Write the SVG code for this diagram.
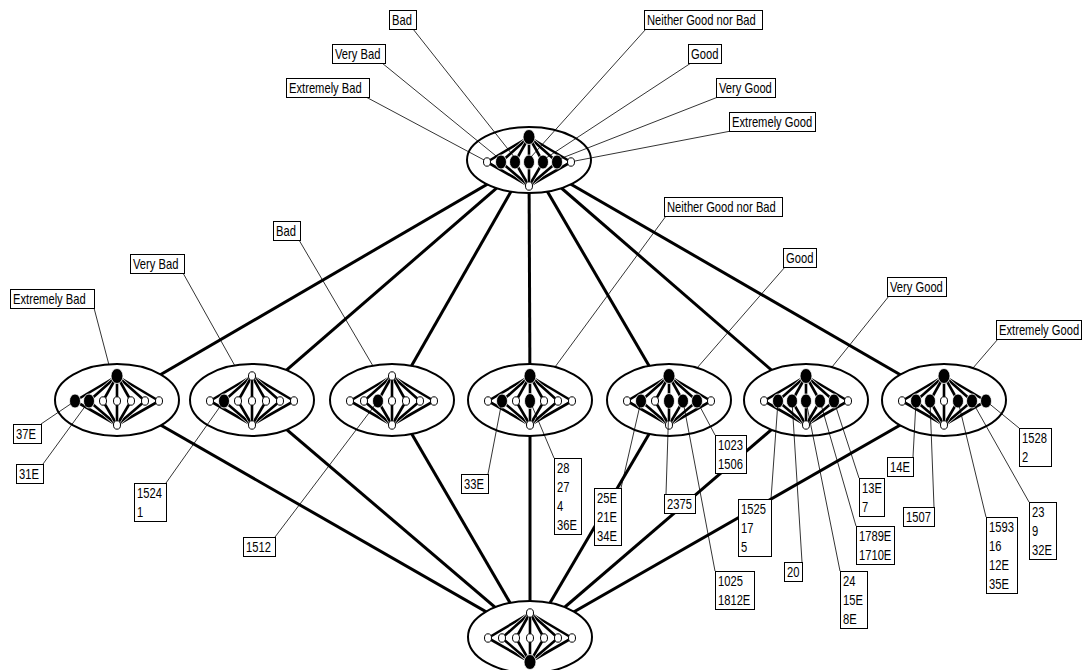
<svg xmlns="http://www.w3.org/2000/svg" xmlns:xlink="http://www.w3.org/1999/xlink" width="1082" height="670" viewBox="0 0 1082 670">
<style>
.edge{stroke:#000;stroke-width:3;fill:none}
.outer{fill:#fff;stroke:#000;stroke-width:2}
.o{fill:#fff;stroke:#000;stroke-width:1}
.f{fill:#000;stroke:#fff;stroke-width:0.8}
.ln{stroke:#000;stroke-width:0.8;fill:none}
.box{fill:#fff;stroke:#000;stroke-width:1}
text{font-family:"Liberation Sans",Arial,sans-serif;font-size:14px;fill:#000}
</style>
<defs>
<g id="ie">
<line x1="0" y1="-24" x2="-42" y2="1" stroke="#fff" stroke-width="3.8"/><line x1="0" y1="-24" x2="-42" y2="1" stroke="#000" stroke-width="2.6"/><line x1="-42" y1="1" x2="0" y2="25" stroke="#fff" stroke-width="3.8"/><line x1="-42" y1="1" x2="0" y2="25" stroke="#000" stroke-width="2.6"/>
<line x1="0" y1="-24" x2="42" y2="1" stroke="#fff" stroke-width="3.8"/><line x1="0" y1="-24" x2="42" y2="1" stroke="#000" stroke-width="2.6"/><line x1="42" y1="1" x2="0" y2="25" stroke="#fff" stroke-width="3.8"/><line x1="42" y1="1" x2="0" y2="25" stroke="#000" stroke-width="2.6"/>
<line x1="0" y1="-24" x2="-28" y2="1" stroke="#fff" stroke-width="3.8"/><line x1="0" y1="-24" x2="-28" y2="1" stroke="#000" stroke-width="2.6"/><line x1="-28" y1="1" x2="0" y2="25" stroke="#fff" stroke-width="3.8"/><line x1="-28" y1="1" x2="0" y2="25" stroke="#000" stroke-width="2.6"/>
<line x1="0" y1="-24" x2="28" y2="1" stroke="#fff" stroke-width="3.8"/><line x1="0" y1="-24" x2="28" y2="1" stroke="#000" stroke-width="2.6"/><line x1="28" y1="1" x2="0" y2="25" stroke="#fff" stroke-width="3.8"/><line x1="28" y1="1" x2="0" y2="25" stroke="#000" stroke-width="2.6"/>
<line x1="0" y1="-24" x2="-14" y2="1" stroke="#fff" stroke-width="3.8"/><line x1="0" y1="-24" x2="-14" y2="1" stroke="#000" stroke-width="2.6"/><line x1="-14" y1="1" x2="0" y2="25" stroke="#fff" stroke-width="3.8"/><line x1="-14" y1="1" x2="0" y2="25" stroke="#000" stroke-width="2.6"/>
<line x1="0" y1="-24" x2="14" y2="1" stroke="#fff" stroke-width="3.8"/><line x1="0" y1="-24" x2="14" y2="1" stroke="#000" stroke-width="2.6"/><line x1="14" y1="1" x2="0" y2="25" stroke="#fff" stroke-width="3.8"/><line x1="14" y1="1" x2="0" y2="25" stroke="#000" stroke-width="2.6"/>
<line x1="0" y1="-24" x2="0" y2="1" stroke="#fff" stroke-width="3.8"/><line x1="0" y1="-24" x2="0" y2="1" stroke="#000" stroke-width="2.6"/><line x1="0" y1="1" x2="0" y2="25" stroke="#fff" stroke-width="3.8"/><line x1="0" y1="1" x2="0" y2="25" stroke="#000" stroke-width="2.6"/>
</g>
</defs>
<rect width="1082" height="670" fill="#fff"/>

<g id="connectors">
<line class="edge" x1="529" y1="160" x2="117" y2="400"/>
<line class="edge" x1="529" y1="160" x2="252" y2="400"/>
<line class="edge" x1="529" y1="160" x2="392" y2="400"/>
<line class="edge" x1="529" y1="160" x2="530" y2="400"/>
<line class="edge" x1="529" y1="160" x2="669" y2="400"/>
<line class="edge" x1="529" y1="160" x2="806" y2="400"/>
<line class="edge" x1="529" y1="160" x2="944" y2="400"/>
<line class="edge" x1="117" y1="400" x2="530" y2="637"/>
<line class="edge" x1="252" y1="400" x2="530" y2="637"/>
<line class="edge" x1="392" y1="400" x2="530" y2="637"/>
<line class="edge" x1="530" y1="400" x2="530" y2="637"/>
<line class="edge" x1="669" y1="400" x2="530" y2="637"/>
<line class="edge" x1="806" y1="400" x2="530" y2="637"/>
<line class="edge" x1="944" y1="400" x2="530" y2="637"/>
</g>

<g id="node-top">
<ellipse class="outer" cx="529" cy="160" rx="62" ry="33"/>
<use xlink:href="#ie" href="#ie" transform="translate(529,161)"/>
<ellipse class="f" cx="529" cy="137" rx="6" ry="7.5"/>
<ellipse class="o" cx="487" cy="162" rx="3.5" ry="4.2"/>
<ellipse class="f" cx="501" cy="162" rx="5.5" ry="7"/>
<ellipse class="f" cx="515" cy="162" rx="5.5" ry="7"/>
<ellipse class="f" cx="529" cy="162" rx="5.5" ry="7"/>
<ellipse class="f" cx="543" cy="162" rx="5.5" ry="7"/>
<ellipse class="f" cx="557" cy="162" rx="5.5" ry="7"/>
<ellipse class="o" cx="571" cy="162" rx="3.5" ry="4.2"/>
<ellipse class="o" cx="529" cy="186" rx="3.5" ry="4.2"/>
</g>

<g id="node-extremely-bad">
<ellipse class="outer" cx="117" cy="400" rx="62" ry="36"/>
<use xlink:href="#ie" href="#ie" transform="translate(117,400)"/>
<ellipse class="f" cx="117" cy="376" rx="6" ry="7.5"/>
<ellipse class="f" cx="75" cy="401" rx="5.5" ry="7"/>
<ellipse class="f" cx="89" cy="401" rx="5.5" ry="7"/>
<ellipse class="o" cx="103" cy="401" rx="3.5" ry="4.2"/>
<ellipse class="o" cx="117" cy="401" rx="3.5" ry="4.2"/>
<ellipse class="o" cx="131" cy="401" rx="3.5" ry="4.2"/>
<ellipse class="o" cx="145" cy="401" rx="3.5" ry="4.2"/>
<ellipse class="o" cx="159" cy="401" rx="3.5" ry="4.2"/>
<ellipse class="o" cx="117" cy="425" rx="3.5" ry="4.2"/>
</g>

<g id="node-very-bad">
<ellipse class="outer" cx="252" cy="400" rx="62" ry="36"/>
<use xlink:href="#ie" href="#ie" transform="translate(252,400)"/>
<ellipse class="o" cx="252" cy="376" rx="3.5" ry="4.2"/>
<ellipse class="o" cx="210" cy="401" rx="3.5" ry="4.2"/>
<ellipse class="f" cx="224" cy="401" rx="5.5" ry="7"/>
<ellipse class="o" cx="238" cy="401" rx="3.5" ry="4.2"/>
<ellipse class="o" cx="252" cy="401" rx="3.5" ry="4.2"/>
<ellipse class="o" cx="266" cy="401" rx="3.5" ry="4.2"/>
<ellipse class="o" cx="280" cy="401" rx="3.5" ry="4.2"/>
<ellipse class="o" cx="294" cy="401" rx="3.5" ry="4.2"/>
<ellipse class="o" cx="252" cy="425" rx="3.5" ry="4.2"/>
</g>

<g id="node-bad">
<ellipse class="outer" cx="392" cy="400" rx="62" ry="36"/>
<use xlink:href="#ie" href="#ie" transform="translate(392,400)"/>
<ellipse class="o" cx="392" cy="376" rx="3.5" ry="4.2"/>
<ellipse class="o" cx="350" cy="401" rx="3.5" ry="4.2"/>
<ellipse class="o" cx="364" cy="401" rx="3.5" ry="4.2"/>
<ellipse class="f" cx="378" cy="401" rx="5.5" ry="7"/>
<ellipse class="o" cx="392" cy="401" rx="3.5" ry="4.2"/>
<ellipse class="o" cx="406" cy="401" rx="3.5" ry="4.2"/>
<ellipse class="o" cx="420" cy="401" rx="3.5" ry="4.2"/>
<ellipse class="o" cx="434" cy="401" rx="3.5" ry="4.2"/>
<ellipse class="o" cx="392" cy="425" rx="3.5" ry="4.2"/>
</g>

<g id="node-neither">
<ellipse class="outer" cx="530" cy="400" rx="62" ry="36"/>
<use xlink:href="#ie" href="#ie" transform="translate(530,400)"/>
<ellipse class="f" cx="530" cy="376" rx="6" ry="7.5"/>
<ellipse class="o" cx="488" cy="401" rx="3.5" ry="4.2"/>
<ellipse class="f" cx="502" cy="401" rx="5.5" ry="7"/>
<ellipse class="o" cx="516" cy="401" rx="3.5" ry="4.2"/>
<ellipse class="f" cx="530" cy="401" rx="5.5" ry="7.5"/>
<ellipse class="o" cx="544" cy="401" rx="3.5" ry="4.2"/>
<ellipse class="o" cx="558" cy="401" rx="3.5" ry="4.2"/>
<ellipse class="o" cx="572" cy="401" rx="3.5" ry="4.2"/>
<ellipse class="o" cx="530" cy="425" rx="3.5" ry="4.2"/>
</g>

<g id="node-good">
<ellipse class="outer" cx="669" cy="400" rx="62" ry="36"/>
<use xlink:href="#ie" href="#ie" transform="translate(669,400)"/>
<ellipse class="f" cx="669" cy="376" rx="6" ry="7.5"/>
<ellipse class="o" cx="627" cy="401" rx="3.5" ry="4.2"/>
<ellipse class="f" cx="641" cy="401" rx="5.5" ry="7"/>
<ellipse class="o" cx="655" cy="401" rx="3.5" ry="4.2"/>
<ellipse class="f" cx="669" cy="401" rx="5.5" ry="7.5"/>
<ellipse class="f" cx="683" cy="401" rx="5.5" ry="7"/>
<ellipse class="f" cx="697" cy="401" rx="5.5" ry="7"/>
<ellipse class="o" cx="711" cy="401" rx="3.5" ry="4.2"/>
<ellipse class="o" cx="669" cy="425" rx="3.5" ry="4.2"/>
</g>

<g id="node-very-good">
<ellipse class="outer" cx="806" cy="400" rx="62" ry="36"/>
<use xlink:href="#ie" href="#ie" transform="translate(806,400)"/>
<ellipse class="f" cx="806" cy="376" rx="6" ry="7.5"/>
<ellipse class="o" cx="764" cy="401" rx="3.5" ry="4.2"/>
<ellipse class="f" cx="778" cy="401" rx="5.5" ry="7"/>
<ellipse class="f" cx="792" cy="401" rx="5.5" ry="7"/>
<ellipse class="f" cx="806" cy="401" rx="5.5" ry="7"/>
<ellipse class="f" cx="820" cy="401" rx="5.5" ry="7"/>
<ellipse class="f" cx="834" cy="401" rx="5.5" ry="7"/>
<ellipse class="o" cx="848" cy="401" rx="3.5" ry="4.2"/>
<ellipse class="o" cx="806" cy="425" rx="3.5" ry="4.2"/>
</g>

<g id="node-extremely-good">
<ellipse class="outer" cx="944" cy="400" rx="62" ry="36"/>
<use xlink:href="#ie" href="#ie" transform="translate(944,400)"/>
<ellipse class="f" cx="944" cy="376" rx="6" ry="7.5"/>
<ellipse class="o" cx="902" cy="401" rx="3.5" ry="4.2"/>
<ellipse class="f" cx="916" cy="401" rx="5.5" ry="7"/>
<ellipse class="f" cx="930" cy="401" rx="5.5" ry="7"/>
<ellipse class="o" cx="944" cy="401" rx="3.5" ry="4.2"/>
<ellipse class="f" cx="958" cy="401" rx="5.5" ry="7"/>
<ellipse class="f" cx="972" cy="401" rx="5.5" ry="7"/>
<ellipse class="f" cx="986" cy="401" rx="5.5" ry="7"/>
<ellipse class="o" cx="944" cy="425" rx="3.5" ry="4.2"/>
</g>

<g id="node-bottom">
<ellipse class="outer" cx="530" cy="637" rx="62" ry="36"/>
<use xlink:href="#ie" href="#ie" transform="translate(530,637)"/>
<ellipse class="o" cx="530" cy="613" rx="3.5" ry="4.2"/>
<ellipse class="o" cx="488" cy="638" rx="3.5" ry="4.2"/>
<ellipse class="o" cx="502" cy="638" rx="3.5" ry="4.2"/>
<ellipse class="o" cx="516" cy="638" rx="3.5" ry="4.2"/>
<ellipse class="o" cx="530" cy="638" rx="3.5" ry="4.2"/>
<ellipse class="o" cx="544" cy="638" rx="3.5" ry="4.2"/>
<ellipse class="o" cx="558" cy="638" rx="3.5" ry="4.2"/>
<ellipse class="o" cx="572" cy="638" rx="3.5" ry="4.2"/>
<ellipse class="f" cx="530" cy="662" rx="6" ry="7.5"/>
</g>

<g id="label-lines">
<line class="ln" x1="413" y1="29" x2="515" y2="158"/>
<line class="ln" x1="382" y1="63" x2="501" y2="160"/>
<line class="ln" x1="366" y1="97" x2="484" y2="160"/>
<line class="ln" x1="646" y1="29" x2="531" y2="157"/>
<line class="ln" x1="691" y1="63" x2="543" y2="160"/>
<line class="ln" x1="718" y1="97" x2="557" y2="160"/>
<line class="ln" x1="731" y1="131" x2="575" y2="161"/>
<line class="ln" x1="94" y1="308" x2="109" y2="365"/>
<line class="ln" x1="183" y1="273" x2="235" y2="366"/>
<line class="ln" x1="299" y1="240" x2="373" y2="366"/>
<line class="ln" x1="666" y1="216" x2="555" y2="367"/>
<line class="ln" x1="785" y1="267" x2="697" y2="368"/>
<line class="ln" x1="889" y1="296" x2="832" y2="367"/>
<line class="ln" x1="998" y1="339" x2="973" y2="368"/>
<line class="ln" x1="41" y1="424" x2="75" y2="401"/>
<line class="ln" x1="43" y1="464" x2="89" y2="401"/>
<line class="ln" x1="166" y1="483" x2="224" y2="401"/>
<line class="ln" x1="275" y1="537" x2="378" y2="401"/>
<line class="ln" x1="488" y1="474" x2="502" y2="401"/>
<line class="ln" x1="554" y1="458" x2="530" y2="401"/>
<line class="ln" x1="621" y1="488" x2="641" y2="401"/>
<line class="ln" x1="666" y1="494" x2="669" y2="401"/>
<line class="ln" x1="715" y1="571" x2="683" y2="401"/>
<line class="ln" x1="715" y1="435" x2="697" y2="401"/>
<line class="ln" x1="771" y1="499" x2="778" y2="401"/>
<line class="ln" x1="802" y1="562" x2="792" y2="401"/>
<line class="ln" x1="840" y1="571" x2="806" y2="401"/>
<line class="ln" x1="856" y1="526" x2="820" y2="401"/>
<line class="ln" x1="859" y1="478" x2="834" y2="401"/>
<line class="ln" x1="913" y1="457" x2="916" y2="401"/>
<line class="ln" x1="934" y1="507" x2="930" y2="401"/>
<line class="ln" x1="986" y1="517" x2="958" y2="401"/>
<line class="ln" x1="1029" y1="502" x2="972" y2="401"/>
<line class="ln" x1="1019" y1="428" x2="986" y2="401"/>
</g>

<g id="label-top-bad"><rect class="box" x="389.5" y="10.5" width="27" height="19"/><text transform="matrix(0.8 0 0 1 392 25)">Bad</text></g>
<g id="label-top-very-bad"><rect class="box" x="332.5" y="44.5" width="53" height="19"/><text transform="matrix(0.8 0 0 1 335 59)">Very Bad</text></g>
<g id="label-top-extremely-bad"><rect class="box" x="286.5" y="78.5" width="83" height="19"/><text transform="matrix(0.8 0 0 1 289 93)">Extremely Bad</text></g>
<g id="label-top-neither"><rect class="box" x="644.5" y="10.5" width="118" height="19"/><text transform="matrix(0.8 0 0 1 647 25)">Neither Good nor Bad</text></g>
<g id="label-top-good"><rect class="box" x="688.5" y="44.5" width="33" height="19"/><text transform="matrix(0.8 0 0 1 691 59)">Good</text></g>
<g id="label-top-very-good"><rect class="box" x="716.5" y="78.5" width="59" height="19"/><text transform="matrix(0.8 0 0 1 719 93)">Very Good</text></g>
<g id="label-top-extremely-good"><rect class="box" x="729.5" y="112.5" width="86" height="19"/><text transform="matrix(0.8 0 0 1 732 127)">Extremely Good</text></g>

<g id="label-extremely-bad"><rect class="box" x="10.5" y="289.5" width="84" height="19"/><text transform="matrix(0.8 0 0 1 13 304)">Extremely Bad</text></g>
<g id="label-very-bad"><rect class="box" x="130.5" y="254.5" width="54" height="19"/><text transform="matrix(0.8 0 0 1 133 269)">Very Bad</text></g>
<g id="label-bad"><rect class="box" x="273.5" y="221.5" width="27" height="19"/><text transform="matrix(0.8 0 0 1 276 236)">Bad</text></g>
<g id="label-neither"><rect class="box" x="664.5" y="197.5" width="118" height="19"/><text transform="matrix(0.8 0 0 1 667 212)">Neither Good nor Bad</text></g>
<g id="label-good"><rect class="box" x="783.5" y="248.5" width="33" height="19"/><text transform="matrix(0.8 0 0 1 786 263)">Good</text></g>
<g id="label-very-good"><rect class="box" x="887.5" y="277.5" width="59" height="19"/><text transform="matrix(0.8 0 0 1 890 292)">Very Good</text></g>
<g id="label-extremely-good"><rect class="box" x="996.5" y="320.5" width="85" height="19"/><text transform="matrix(0.8 0 0 1 999 335)">Extremely Good</text></g>

<g id="obj-37E"><rect class="box" x="13.5" y="424.5" width="28" height="19"/><text transform="matrix(0.8 0 0 1 16 439)">37E</text></g>
<g id="obj-31E"><rect class="box" x="16.5" y="464.5" width="27" height="19"/><text transform="matrix(0.8 0 0 1 19 479)">31E</text></g>
<g id="obj-1524"><rect class="box" x="134.5" y="483.5" width="32" height="38"/><text transform="matrix(0.8 0 0 1 137 498)"><tspan x="0" y="0">1524</tspan><tspan x="0" y="19">1</tspan></text></g>
<g id="obj-1512"><rect class="box" x="243.5" y="537.5" width="32" height="19"/><text transform="matrix(0.8 0 0 1 246 552)">1512</text></g>
<g id="obj-33E"><rect class="box" x="461.5" y="474.5" width="27" height="19"/><text transform="matrix(0.8 0 0 1 464 489)">33E</text></g>
<g id="obj-28"><rect class="box" x="554.5" y="458.5" width="27" height="76"/><text transform="matrix(0.8 0 0 1 557 473)"><tspan x="0" y="0">28</tspan><tspan x="0" y="19">27</tspan><tspan x="0" y="38">4</tspan><tspan x="0" y="57">36E</tspan></text></g>
<g id="obj-25E"><rect class="box" x="594.5" y="488.5" width="27" height="57"/><text transform="matrix(0.8 0 0 1 597 503)"><tspan x="0" y="0">25E</tspan><tspan x="0" y="19">21E</tspan><tspan x="0" y="38">34E</tspan></text></g>
<g id="obj-2375"><rect class="box" x="664.5" y="494.5" width="31" height="19"/><text transform="matrix(0.8 0 0 1 667 509)">2375</text></g>
<g id="obj-1025"><rect class="box" x="715.5" y="571.5" width="39" height="38"/><text transform="matrix(0.8 0 0 1 718 586)"><tspan x="0" y="0">1025</tspan><tspan x="0" y="19">1812E</tspan></text></g>
<g id="obj-1023"><rect class="box" x="715.5" y="435.5" width="31" height="38"/><text transform="matrix(0.8 0 0 1 718 450)"><tspan x="0" y="0">1023</tspan><tspan x="0" y="19">1506</tspan></text></g>
<g id="obj-1525"><rect class="box" x="738.5" y="499.5" width="33" height="57"/><text transform="matrix(0.8 0 0 1 741 514)"><tspan x="0" y="0">1525</tspan><tspan x="0" y="19">17</tspan><tspan x="0" y="38">5</tspan></text></g>
<g id="obj-20"><rect class="box" x="784.5" y="562.5" width="18" height="19"/><text transform="matrix(0.8 0 0 1 787 577)">20</text></g>
<g id="obj-24"><rect class="box" x="840.5" y="571.5" width="27" height="57"/><text transform="matrix(0.8 0 0 1 843 586)"><tspan x="0" y="0">24</tspan><tspan x="0" y="19">15E</tspan><tspan x="0" y="38">8E</tspan></text></g>
<g id="obj-1789E"><rect class="box" x="856.5" y="526.5" width="38" height="38"/><text transform="matrix(0.8 0 0 1 859 541)"><tspan x="0" y="0">1789E</tspan><tspan x="0" y="19">1710E</tspan></text></g>
<g id="obj-13E"><rect class="box" x="859.5" y="478.5" width="25" height="38"/><text transform="matrix(0.8 0 0 1 862 493)"><tspan x="0" y="0">13E</tspan><tspan x="0" y="19">7</tspan></text></g>
<g id="obj-14E"><rect class="box" x="887.5" y="457.5" width="26" height="19"/><text transform="matrix(0.8 0 0 1 890 472)">14E</text></g>
<g id="obj-1507"><rect class="box" x="903.5" y="507.5" width="31" height="19"/><text transform="matrix(0.8 0 0 1 906 522)">1507</text></g>
<g id="obj-1593"><rect class="box" x="986.5" y="517.5" width="31" height="76"/><text transform="matrix(0.8 0 0 1 989 532)"><tspan x="0" y="0">1593</tspan><tspan x="0" y="19">16</tspan><tspan x="0" y="38">12E</tspan><tspan x="0" y="57">35E</tspan></text></g>
<g id="obj-23"><rect class="box" x="1029.5" y="502.5" width="27" height="57"/><text transform="matrix(0.8 0 0 1 1032 517)"><tspan x="0" y="0">23</tspan><tspan x="0" y="19">9</tspan><tspan x="0" y="38">32E</tspan></text></g>
<g id="obj-1528"><rect class="box" x="1019.5" y="428.5" width="32" height="38"/><text transform="matrix(0.8 0 0 1 1022 443)"><tspan x="0" y="0">1528</tspan><tspan x="0" y="19">2</tspan></text></g>
</svg>
